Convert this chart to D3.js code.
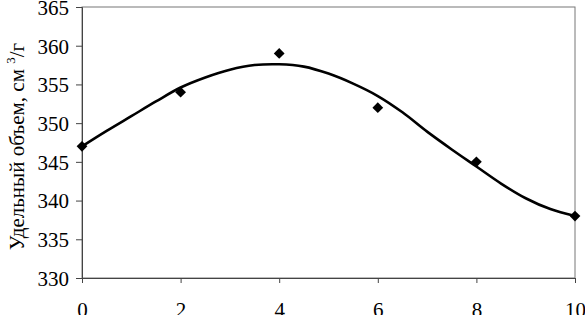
<!DOCTYPE html>
<html>
<head>
<meta charset="utf-8">
<script src="https://cdn.jsdelivr.net/npm/d3@7"></script>
<style>
  body { margin: 0; background: #fff; }
  svg text { font-family: "Liberation Serif", "Times New Roman", serif; fill: #000; }
</style>
</head>
<body>
<div id="chart"></div>
<script>
// measured points
const timeVals = [0, 2, 4, 6, 8, 10];
const volumeVals = [347, 354, 359, 352, 345, 338];

// trend line
const trendX = [0, 0.5, 1, 1.5, 2, 2.5, 3, 3.5, 4, 4.5, 5, 5.5, 6, 6.5, 7, 7.5, 8, 8.5, 9, 9.5, 10];
const trendY = [347, 349, 350.9, 352.8, 354.6, 355.9, 356.9, 357.5, 357.6, 357.3, 356.4, 355.1, 353.5, 351.4, 348.9, 346.6, 344.4, 342.2, 340.3, 338.9, 338];

const xTicks = [0, 2, 4, 6, 8, 10];
const yTicks = [330, 335, 340, 345, 350, 355, 360, 365];

const width = 585, height = 315;
const margin = { top: 7, right: 10, bottom: 37, left: 82 };

const svg = d3.select('#chart')
    .append('svg')
    .attr('width', width)
    .attr('height', height);

const x = d3.scaleLinear().domain([0, 10]).range([margin.left, width - margin.right]);
const y = d3.scaleLinear().domain([330, 365]).range([height - margin.bottom, margin.top]);

// frame
svg.append('rect')
    .attr('x', x(0))
    .attr('y', y(365))
    .attr('width', x(10) - x(0))
    .attr('height', y(330) - y(365))
    .attr('fill', 'none')
    .attr('stroke', '#777')
    .attr('stroke-width', 1);

// axes
const xAxis = svg.append('g')
    .attr('transform', `translate(0,${y(330)})`)
    .call(d3.axisBottom(x).tickValues(xTicks).tickSize(5).tickPadding(19).tickFormat(d3.format('d')));

const yAxis = svg.append('g')
    .attr('transform', `translate(${x(0)},0)`)
    .call(d3.axisLeft(y).tickValues(yTicks).tickSize(6).tickPadding(7).tickFormat(d3.format('d')));

[xAxis, yAxis].forEach(g => {
    g.select('.domain').attr('stroke', '#444');
    g.selectAll('.tick line').attr('stroke', '#444');
    g.selectAll('.tick text')
        .style('font-family', '"Liberation Serif", serif')
        .style('font-size', '21px')
        .attr('fill', '#000');
});
yAxis.selectAll('.tick text').attr('dy', '0.35em');
xAxis.selectAll('.tick text').attr('dy', '0.71em');

// trend curve
const line = d3.line()
    .x((d, i) => x(trendX[i]))
    .y(d => y(d))
    .curve(d3.curveCatmullRom);

svg.append('path')
    .datum(trendY)
    .attr('d', line)
    .attr('fill', 'none')
    .attr('stroke', '#000')
    .attr('stroke-width', 2.6);

// markers
svg.selectAll('path.pt')
    .data(volumeVals)
    .enter()
    .append('path')
    .attr('class', 'pt')
    .attr('d', d3.symbol().type(d3.symbolSquare).size(58))
    .attr('transform', (d, i) => `translate(${x(timeVals[i])},${y(d)}) rotate(45)`)
    .attr('fill', '#000');

// y label
const label = svg.append('text')
    .attr('transform', `translate(24,${(y(330) + y(365)) / 2 + 4}) rotate(-90)`)
    .attr('text-anchor', 'middle')
    .style('font-size', '21px');
label.append('tspan').text('Удельный объем, см ');
label.append('tspan').text('3').style('font-size', '13px').attr('dy', '-9');
label.append('tspan').text('/г').attr('dy', '9');
</script>
</body>
</html>
